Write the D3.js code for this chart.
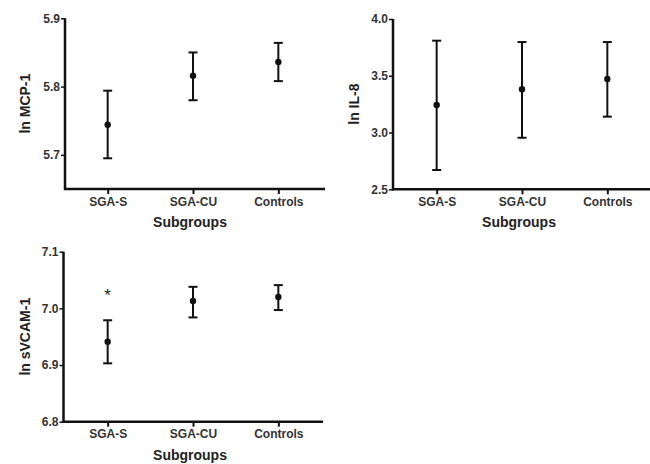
<!DOCTYPE html>
<html>
<head>
<meta charset="utf-8">
<script src="https://cdn.jsdelivr.net/npm/d3@7"></script>
<style>
  body { margin: 0; background: #fff; }
  svg { display: block; }
  .tick text { font-family: "Liberation Sans", Arial, sans-serif; font-weight: bold; font-size: 12px; fill: #333; }
  .title { font-family: "Liberation Sans", Arial, sans-serif; font-weight: bold; font-size: 14px; fill: #222; }
</style>
</head>
<body>
<svg id="chart" width="650" height="464"></svg>
<script>
const width = 650;
const height = 464;
const svg = d3.select('#chart');

// Data
const groups = ['SGA-S', 'SGA-CU', 'Controls'];

const mcpMean = [5.744, 5.816, 5.836];
const mcpLow = [5.695, 5.780, 5.808];
const mcpHigh = [5.794, 5.850, 5.864];
const mcpTicks = [5.7, 5.8, 5.9];

const il8Mean = [3.242, 3.381, 3.471];
const il8Low = [2.670, 2.954, 3.140];
const il8High = [3.809, 3.797, 3.797];
const il8Ticks = [2.5, 3.0, 3.5, 4.0];

const vcamMean = [6.941, 7.013, 7.020];
const vcamLow = [6.903, 6.984, 6.997];
const vcamHigh = [6.979, 7.038, 7.041];
const vcamTicks = [6.8, 6.9, 7.0, 7.1];
const vcamStars = ['*', '', ''];
const vcamStarY = [7.025, null, null];

const panels = [
  { label: 'ln MCP-1', mean: mcpMean, low: mcpLow, high: mcpHigh, ticks: mcpTicks, domain: [5.65, 5.9],
    x0: 65, x1: 325, bx: [65, 321], top: 18.3, bottom: 189, titleX: 28 },
  { label: 'ln IL-8', mean: il8Mean, low: il8Low, high: il8High, ticks: il8Ticks, domain: [2.5, 4.0],
    x0: 393, x1: 652, bx: [394, 650], top: 19, bottom: 189.3, titleX: 357 },
  { label: 'ln sVCAM-1', mean: vcamMean, low: vcamLow, high: vcamHigh, ticks: vcamTicks, domain: [6.8, 7.1],
    x0: 63.5, x1: 323, bx: [65, 321], top: 251.7, bottom: 421.7, titleX: 28,
    stars: vcamStars, starY: vcamStarY }
];

panels.forEach(p => {
  const x = d3.scalePoint().domain(groups).range(p.bx).padding(0.5);
  const y = d3.scaleLinear().domain(p.domain).range([p.bottom, p.top]);
  const g = svg.append('g');

  // axes
  const yAxis = g.append('g')
    .attr('transform', `translate(${p.x0},0)`)
    .call(d3.axisLeft(y).tickValues(p.ticks).tickFormat(d3.format('.1f')).tickSize(4).tickPadding(1));
  yAxis.select('.domain').remove();
  yAxis.selectAll('.tick line').attr('stroke', '#111').attr('stroke-width', 1.5);

  const xAxis = g.append('g')
    .attr('transform', `translate(0,${p.bottom})`)
    .call(d3.axisBottom(x).tickSize(5).tickPadding(3));
  xAxis.select('.domain').remove();
  xAxis.selectAll('.tick line').attr('stroke', '#111').attr('stroke-width', 2);

  g.append('line')
    .attr('x1', p.x0).attr('x2', p.x0)
    .attr('y1', y(p.domain[1])).attr('y2', p.bottom + 1)
    .attr('stroke', '#111').attr('stroke-width', 2.5);
  g.append('line')
    .attr('x1', p.x0 - 1).attr('x2', p.x1)
    .attr('y1', p.bottom).attr('y2', p.bottom)
    .attr('stroke', '#111').attr('stroke-width', 2.5);

  // titles
  g.append('text').attr('class', 'title')
    .attr('x', (p.bx[0] + p.bx[1]) / 2 - 3).attr('y', p.bottom + 38)
    .attr('text-anchor', 'middle').text('Subgroups');
  g.append('text').attr('class', 'title')
    .attr('transform', `translate(${p.titleX + 2},${(p.top + p.bottom) / 2}) rotate(-90)`)
    .attr('text-anchor', 'middle').text(p.label);

  // error bars
  const bars = g.selectAll('.bar').data(groups).enter().append('g');
  bars.append('line')
    .attr('x1', d => x(d)).attr('x2', d => x(d))
    .attr('y1', (d, i) => y(p.high[i])).attr('y2', (d, i) => y(p.low[i]))
    .attr('stroke', '#111').attr('stroke-width', 2);
  bars.append('line')
    .attr('x1', d => x(d) - 4.5).attr('x2', d => x(d) + 4.5)
    .attr('y1', (d, i) => y(p.high[i])).attr('y2', (d, i) => y(p.high[i]))
    .attr('stroke', '#111').attr('stroke-width', 2);
  bars.append('line')
    .attr('x1', d => x(d) - 4.5).attr('x2', d => x(d) + 4.5)
    .attr('y1', (d, i) => y(p.low[i])).attr('y2', (d, i) => y(p.low[i]))
    .attr('stroke', '#111').attr('stroke-width', 2);
  bars.append('circle')
    .attr('cx', d => x(d)).attr('cy', (d, i) => y(p.mean[i]))
    .attr('r', 3.2).attr('fill', '#111');

  if (p.stars) {
    g.selectAll('.star').data(groups.filter((d, i) => p.stars[i])).enter().append('text')
      .attr('x', d => x(d)).attr('y', d => y(p.starY[groups.indexOf(d)]) + 7)
      .attr('text-anchor', 'middle')
      .style('font-family', '"Liberation Sans", Arial, sans-serif')
      .style('font-size', '17px').style('fill', '#222')
      .text(d => p.stars[groups.indexOf(d)]);
  }
});
</script>
</body>
</html>
